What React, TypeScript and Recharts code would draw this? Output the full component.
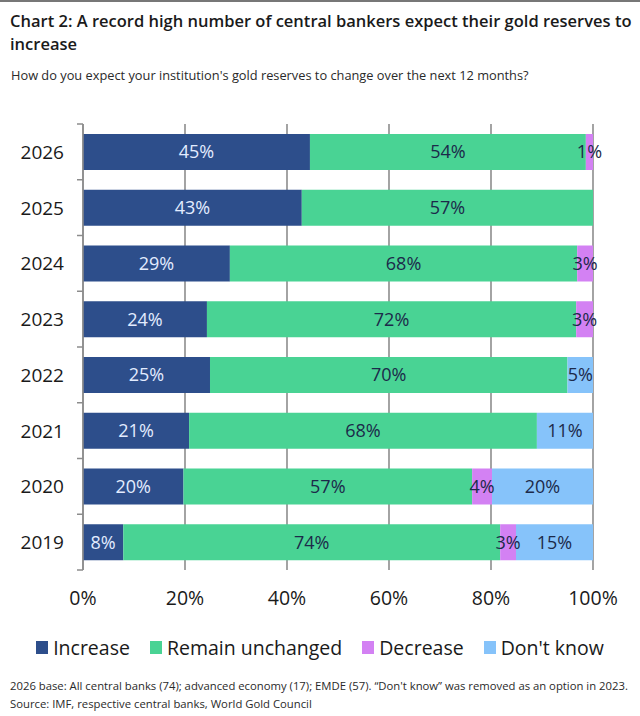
import { Bar, BarChart, CartesianGrid, LabelList, XAxis, YAxis } from 'recharts'

const YEARS = ['2026', '2025', '2024', '2023', '2022', '2021', '2020', '2019']
const INCREASE = [44.5, 42.9, 28.8, 24.3, 24.9, 20.8, 19.7, 7.9]
const UNCHANGED = [54.1, 57.1, 68.1, 72.4, 70.1, 68.2, 56.6, 73.9]
const DECREASE = [1.4, 0, 3.1, 3.3, 0, 0, 3.9, 3.1]
const DONT_KNOW = [0, 0, 0, 0, 5.0, 11.0, 19.8, 15.1]
const X_TICKS = [0, 20, 40, 60, 80, 100]

const SERIES = [
  { key: 'increase', name: 'Increase', color: '#2d4e8b', text: '#e3ecff' },
  { key: 'unchanged', name: 'Remain unchanged', color: '#49d394', text: '#1c2a4a' },
  { key: 'decrease', name: 'Decrease', color: '#d381f3', text: '#1c2a4a' },
  { key: 'dontKnow', name: "Don't know", color: '#86c3fa', text: '#1c2a4a' },
]

const FONT = '"Open Sans", "Noto Sans", sans-serif'

const data = YEARS.map((year, i) => ({
  year,
  increase: INCREASE[i],
  unchanged: UNCHANGED[i],
  decrease: DECREASE[i],
  dontKnow: DONT_KNOW[i],
}))

const pct = (v: any) => (Number(v) > 0 ? `${Math.round(Number(v))}%` : '')

// year label plus the small boundary ticks between categories
const YearTick = (props: any) => {
  const { x, y, payload, index } = props
  const half = payload.offset ?? 0
  const axisX = x + 8
  return (
    <g>
      <line x1={axisX - 6} x2={axisX} y1={y - half} y2={y - half} stroke="#8c8c8c" strokeWidth={1.5} />
      {index === YEARS.length - 1 && (
        <line x1={axisX - 6} x2={axisX} y1={y + half} y2={y + half} stroke="#8c8c8c" strokeWidth={1.5} />
      )}
      <text x={x - 11} y={y} dy={7} textAnchor="end" fill="#1a1a1a" fontSize={19} fontFamily={FONT}>
        {payload.value}
      </text>
    </g>
  )
}

const App = () => {
  return (
    <div style={{ position: 'absolute', top: 0, left: 0, width: 640, height: 716, background: '#fff', fontFamily: FONT }}>
      <div style={{ position: 'absolute', top: 0, left: 0, width: 640, height: 2, background: '#777' }} />
      <div style={{ position: 'absolute', top: 9, left: 10, width: 625, fontSize: 16.5, fontWeight: 600, lineHeight: '23px', color: '#1a1a1a' }}>
        Chart 2: A record high number of central bankers expect their gold reserves to increase
      </div>
      <div style={{ position: 'absolute', top: 66, left: 11, fontSize: 12.8, color: '#2a2a2a' }}>
        How do you expect your institution's gold reserves to change over the next 12 months?
      </div>

      <div style={{ position: 'absolute', top: 0, left: 0 }}>
        <BarChart
          width={640}
          height={716}
          data={data}
          layout="vertical"
          barSize={36}
          margin={{ top: 124, right: 47, bottom: 106, left: 0 }}
        >
          <CartesianGrid horizontal={false} stroke="#9a9a9a" strokeWidth={1.8} />
          <XAxis
            type="number"
            domain={[0, 100]}
            ticks={X_TICKS}
            tickFormatter={(v) => `${v}%`}
            axisLine={false}
            tickLine={false}
            height={40}
            tick={{ fontSize: 19.5, fill: '#1a1a1a', fontFamily: FONT, dy: 13 }}
          />
          <YAxis
            type="category"
            dataKey="year"
            width={83}
            axisLine={{ stroke: '#8c8c8c', strokeWidth: 1.5 }}
            tickLine={false}
            tick={<YearTick />}
          />
          {SERIES.map((s) => (
            <Bar key={s.key} dataKey={s.key} name={s.name} stackId="a" fill={s.color} isAnimationActive={false}>
              <LabelList dataKey={s.key} position="center" formatter={pct} fill={s.text} fontSize={18} fontFamily={FONT} />
            </Bar>
          ))}
        </BarChart>
      </div>

      <div
        style={{
          position: 'absolute',
          top: 634,
          left: 0,
          width: 640,
          display: 'flex',
          justifyContent: 'center',
          gap: 20,
          fontSize: 19.5,
          color: '#1a1a1a',
        }}
      >
        {SERIES.map((s) => (
          <span key={s.key} style={{ display: 'flex', alignItems: 'center', gap: 5 }}>
            <span style={{ width: 12, height: 13, background: s.color, display: 'inline-block' }} />
            {s.name}
          </span>
        ))}
      </div>

      <div style={{ position: 'absolute', top: 677, left: 10, fontSize: 11.3, lineHeight: '18px', color: '#2a2a2a', whiteSpace: 'nowrap' }}>
        <div>2026 base: All central banks (74); advanced economy (17); EMDE (57). “Don't know” was removed as an option in 2023.</div>
        <div>Source: IMF, respective central banks, World Gold Council</div>
      </div>
    </div>
  )
}

export default App
